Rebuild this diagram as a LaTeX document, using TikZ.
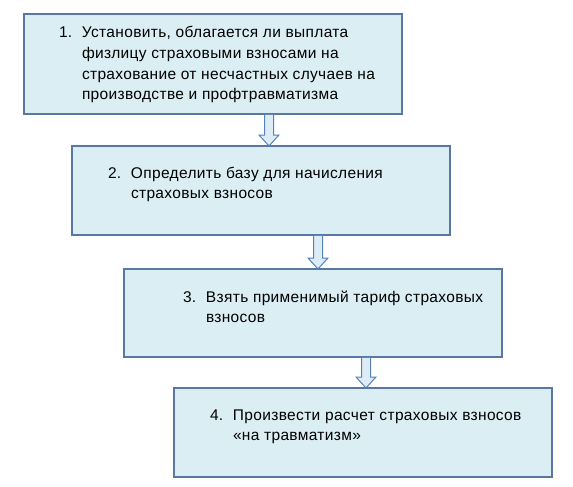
\documentclass[tikz,border=0pt]{standalone}
\usepackage{fontspec}
\setmainfont[LetterSpace=2.2]{Liberation Sans}
\usepackage{array}
\usetikzlibrary{positioning,calc}
\definecolor{boxline}{RGB}{88,120,163}
\definecolor{boxfill}{RGB}{219,238,244}
\definecolor{arrline}{RGB}{84,130,190}
\definecolor{arrfill}{RGB}{222,236,248}
\newcommand{\steptext}[3]{\begin{tabular}[t]{@{\hspace{#1}}p{23pt}@{}p{\dimexpr355pt-#1\relax}@{}}#2&#3\end{tabular}}

\begin{document}
\begin{tikzpicture}[x=1pt, y=1pt, font=\fontsize{15.5}{20.5}\selectfont,
    stepbox/.style = {draw=boxline, fill=boxfill, line width=1.6pt, inner sep=0pt, outer sep=0pt},
    blockarrow/.style = {draw=arrline, fill=arrfill, line width=1pt, to path={
        ($(\tikztostart)+(-4.5,0)$) -- ($(\tikztotarget)+(-4.5,11)$) -- ++(-5.5,0) -- (\tikztotarget)
        -- ++(10,11) -- ++(-5.5,0) -- ($(\tikztostart)+(4.5,0)$)}}]
    \useasboundingbox (0,0) rectangle (573,-487);
    \node[stepbox, text height=24pt, text depth=76pt, anchor=north west] (A) at (24,-14)
        {\steptext{35pt}{1.}{Установить, облагается ли выплата\newline физлицу страховыми взносами на\newline страхование от несчастных случаев на\newline производстве и профтравматизма}};
    \node[stepbox, text height=32pt, text depth=57pt] (B) [below right=32pt and 48pt of A.south west]
        {\steptext{36pt}{2.}{Определить базу для начисления\newline страховых взносов}};
    \node[stepbox, text height=33pt, text depth=55pt] (C) [below right=34pt and 52pt of B.south west]
        {\steptext{59pt}{3.}{Взять применимый тариф страховых\newline взносов}};
    \node[stepbox, text height=32pt, text depth=57pt] (D) [below right=31pt and 50pt of C.south west]
        {\steptext{36pt}{4.}{Произвести расчет страховых взносов\newline «на травматизм»}};
    \coordinate (a1) at ([xshift=245pt, yshift=-0.8pt]A.south west);
    \coordinate (a2) at ([xshift=246pt, yshift=-0.8pt]B.south west);
    \coordinate (a3) at ([xshift=242pt, yshift=-0.8pt]C.south west);
    \draw[blockarrow] (a1) to (a1 |- B.north);
    \draw[blockarrow] (a2) to (a2 |- C.north);
    \draw[blockarrow] (a3) to (a3 |- D.north);
\end{tikzpicture}
\end{document}
